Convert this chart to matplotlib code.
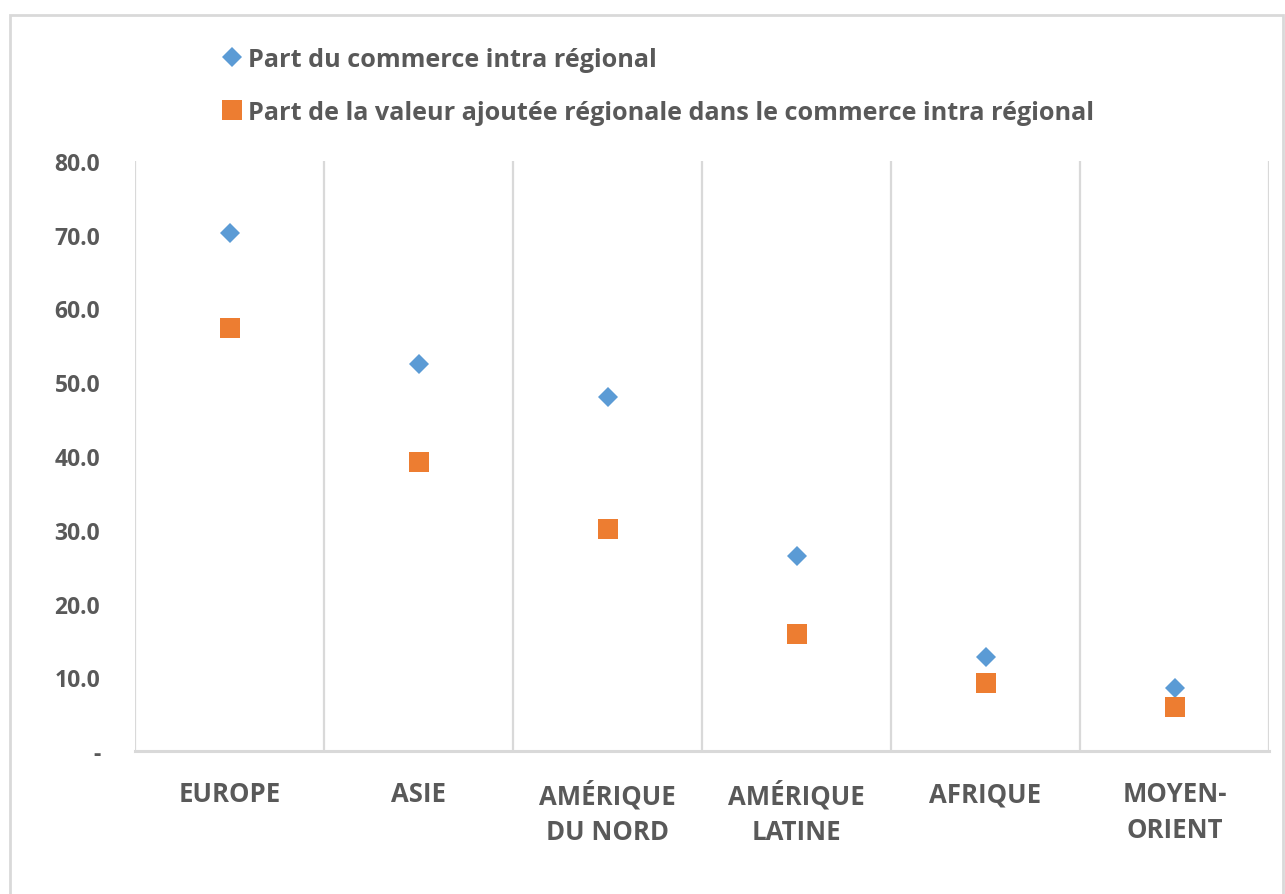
import matplotlib
matplotlib.use("Agg")
import matplotlib.pyplot as plt
from matplotlib.patches import Rectangle
from matplotlib.lines import Line2D

categories = ["EUROPE", "ASIE", "AMÉRIQUE\nDU NORD", "AMÉRIQUE\nLATINE", "AFRIQUE", "MOYEN-\nORIENT"]
commerce_intra = [70.3, 52.5, 48.0, 26.4, 12.7, 8.5]
valeur_ajoutee = [57.3, 39.2, 30.1, 15.9, 9.2, 6.0]
yticks = [0, 10, 20, 30, 40, 50, 60, 70, 80]
yticklabels = ["-", "10.0", "20.0", "30.0", "40.0", "50.0", "60.0", "70.0", "80.0"]
series_names = ["Part du commerce intra régional",
                "Part de la valeur ajoutée régionale dans le commerce intra régional"]

BLUE = "#5B9BD5"
ORANGE = "#ED7D31"
GRID = "#D9D9D9"
TXT = "#595959"
FONT = "Open Sans"

W, H = 1285, 895
fig = plt.figure(figsize=(W / 100, H / 100), dpi=100)
ax = fig.add_axes([135 / W, 1 - 752 / H, (1269 - 135) / W, (752 - 162) / H])

x = list(range(len(categories)))
ax.plot(x, commerce_intra, linestyle="none", marker="D", markersize=9.8,
        color=BLUE, markeredgewidth=0, label=series_names[0], zorder=3)
ax.plot(x, valeur_ajoutee, linestyle="none", marker="s", markersize=14.4,
        color=ORANGE, markeredgewidth=0, label=series_names[1], zorder=3)

ax.set_xlim(-0.5, len(categories) - 0.5)
ax.set_ylim(0, 80)
# vertical separators between categories
for b in range(len(categories) + 1):
    ax.axvline(b - 0.5, color=GRID, lw=1.6, zorder=1)
for s in ax.spines.values():
    s.set_visible(False)
ax.axhline(0, color=GRID, lw=2.2, zorder=1, clip_on=False)

ax.set_xticks(x)
ax.set_xticklabels(categories, fontsize=18.5, color=TXT, family=FONT,
                   fontweight="bold", linespacing=1.42)
ax.set_yticks(yticks)
ax.set_yticklabels(yticklabels, fontsize=16.5, color=TXT, family=FONT,
                   fontweight="bold")
ax.tick_params(axis="both", length=0)
ax.tick_params(axis="x", pad=21)
ax.tick_params(axis="y", pad=25)

# legend
handles = [Line2D([], [], linestyle="none", marker="D", markersize=9.8, color=BLUE, markeredgewidth=0),
           Line2D([], [], linestyle="none", marker="s", markersize=14.4, color=ORANGE, markeredgewidth=0)]
fig.legend(handles, series_names, loc="upper left", bbox_to_anchor=(200 / W, 1 - 25 / H),
           frameon=False, handlelength=0.7, handletextpad=0.3, labelspacing=1.12,
           prop={"family": FONT, "size": 18.2, "weight": "bold"}, labelcolor=TXT)

# outer chart border
fig.add_artist(Rectangle((10 / W, -0.05), (1283 - 10) / W, 1.05 - 16 / H,
                         transform=fig.transFigure, fill=False, edgecolor=GRID, lw=2))

fig.savefig("out.png", dpi=100, facecolor="white")
